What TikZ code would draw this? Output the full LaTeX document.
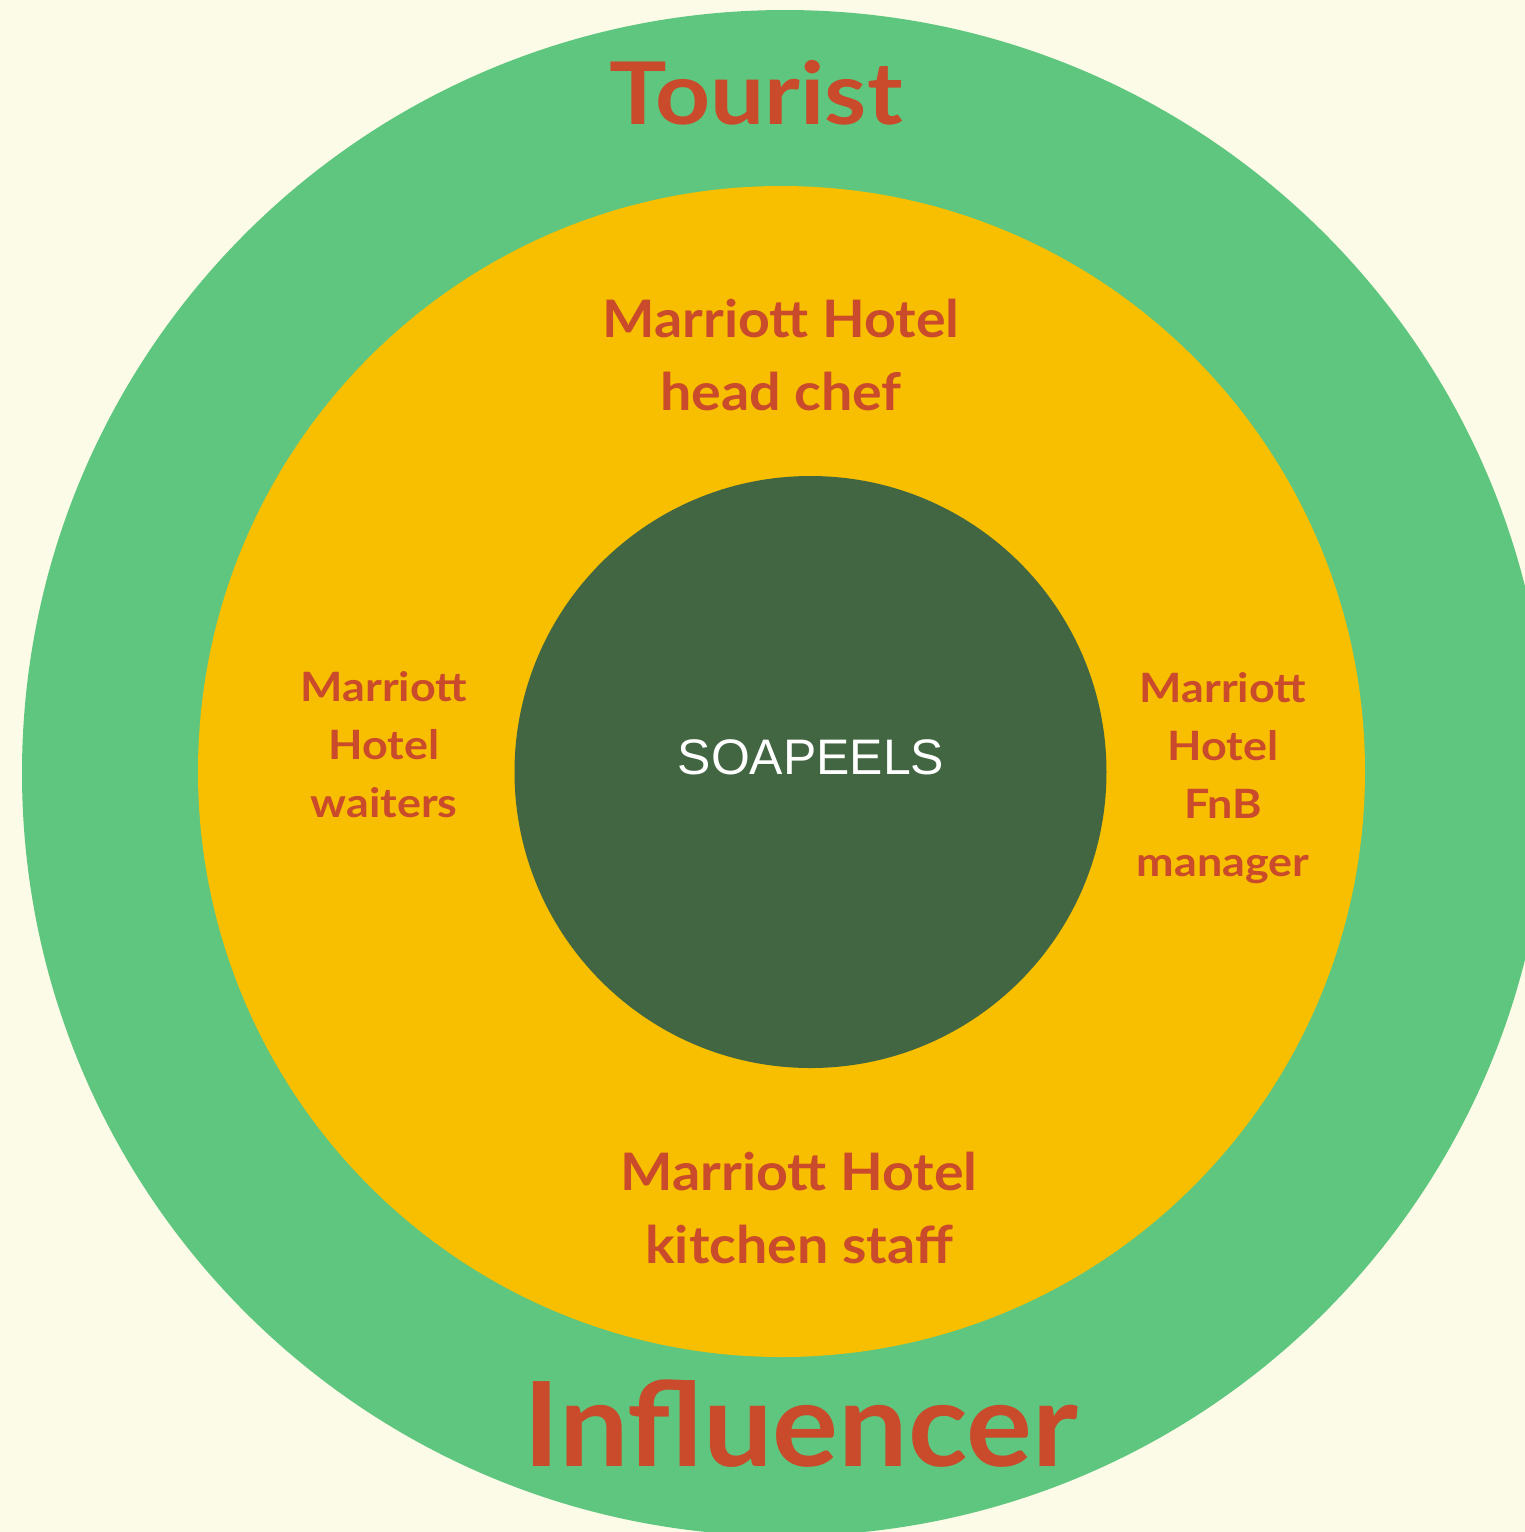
\documentclass[tikz,border=0pt]{standalone}
\usepackage{fontspec}
\setmainfont{Lato}
\setsansfont{Liberation Sans}
\newfontfamily\widelato[FakeStretch=1.11]{Lato}
\newfontfamily\midlato[FakeStretch=1.075]{Lato}
\newfontfamily\inflato[FakeStretch=1.05]{Lato}
\usetikzlibrary{positioning}
\definecolor{bgcream}{HTML}{FCFBE8}
\definecolor{ringgreen}{HTML}{5EC67E}
\definecolor{ringyellow}{HTML}{F8BF00}
\definecolor{coregreen}{HTML}{426641}
\definecolor{roletxt}{HTML}{C94B2B}
\tikzset{%
  ring/.style     = {draw=none},
  role/.style     = {text=roletxt, align=center, inner sep=0pt},
  bigrole/.style  = {role, font=\midlato\bfseries\fontsize{14.7}{21}\selectfont},
  siderole/.style = {role, font=\widelato\bfseries\fontsize{11.5}{16.5}\selectfont},
  core/.style     = {text=white, font=\sffamily\fontsize{14.2}{16}\selectfont, inner sep=0pt}
}
\begin{document}
\begin{tikzpicture}[x=0.01cm, y=-0.01cm]
\useasboundingbox[fill=bgcream] (0,0) rectangle (1525,1532);
% rings
\fill[ring, ringgreen] (785,773) circle [radius=763];
\fill[ring, ringyellow] (781.5,771.5) ellipse [x radius=583.5, y radius=585.5];
\fill[ring, coregreen] (810.5,772) circle [radius=296];
% outer ring texts
\node[role, font=\widelato\bfseries\fontsize{24.6}{28}\selectfont, anchor=base, name=tourist] at (756,124) {Tourist};
\node[role, font=\inflato\bfseries\fontsize{33.4}{38}\selectfont, anchor=base, name=influencer] at (801,1466) {Influencer};
% middle ring texts
\node[bigrole, name=headchef] at (781,355) {Marriott Hotel\\head chef};
\node[bigrole, name=kitchen] at (799,1208) {Marriott Hotel\\kitchen staff};
\node[siderole, name=waiters] at (384,745) {Marriott\\Hotel\\waiters};
\node[siderole, name=fnb] at (1223,778) {Marriott\\Hotel\\FnB\\manager};
% core
\node[core, anchor=base, name=soapeels] at (811,774) {SOAPEELS};
\end{tikzpicture}
\end{document}
